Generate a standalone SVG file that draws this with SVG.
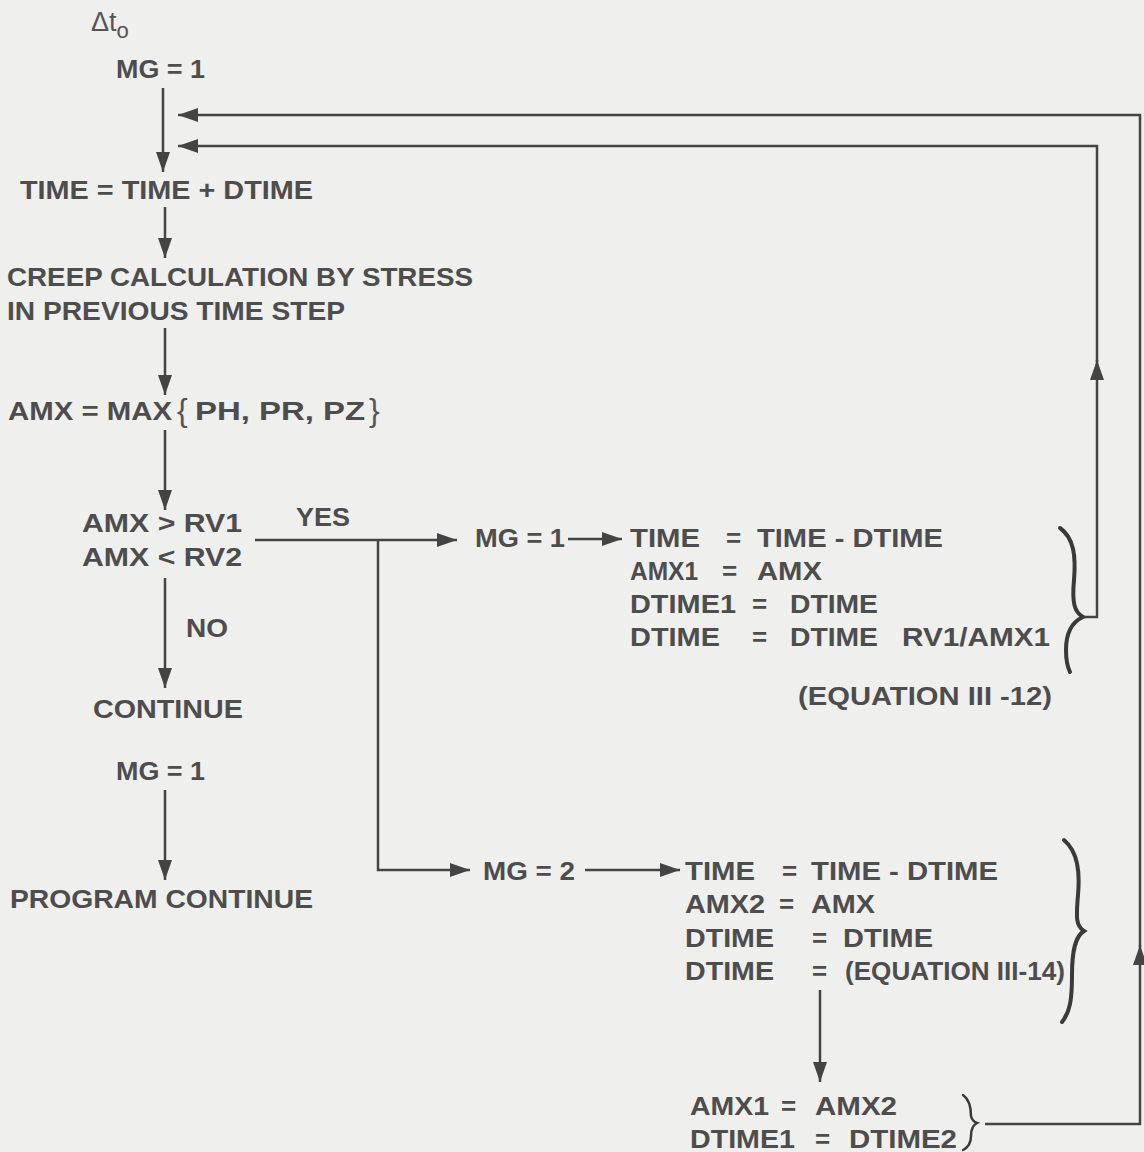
<svg xmlns="http://www.w3.org/2000/svg" width="1144" height="1152" viewBox="0 0 1144 1152">
<style>
.t{font-family:"Liberation Sans",Arial,sans-serif;font-weight:bold;font-size:26px;fill:#4d4d4d}
.th{font-family:"Liberation Sans",Arial,sans-serif;font-weight:normal;font-size:26px;fill:#555}
.c{fill:none;stroke:#444;stroke-width:2.5}
.b{fill:none;stroke:#3a3a3a;stroke-width:4;stroke-linecap:round}
</style>
<defs>
<marker id="ah" viewBox="0 0 20 14" refX="20" refY="7" markerWidth="20" markerHeight="14" markerUnits="userSpaceOnUse" orient="auto">
<path d="M0,0 L20,7 L0,14 Z" fill="#444"/>
</marker>
</defs>
<rect width="1144" height="1152" fill="#efefed"/>

<g id="start">
<text class="th" x="91" y="31" style="font-size:27px">Δt<tspan dy="7" style="font-size:22px">o</tspan></text>
<text class="t" x="116" y="78" textLength="89" lengthAdjust="spacingAndGlyphs">MG = 1</text>
</g>
<g id="time-step"><text class="t" x="20" y="199" textLength="293" lengthAdjust="spacingAndGlyphs">TIME = TIME + DTIME</text></g>
<g id="creep">
<text class="t" x="7" y="286" textLength="466" lengthAdjust="spacingAndGlyphs">CREEP CALCULATION BY STRESS</text>
<text class="t" x="7" y="320" textLength="338" lengthAdjust="spacingAndGlyphs">IN PREVIOUS TIME STEP</text>
</g>
<g id="amx-max">
<text class="t" x="8" y="420" textLength="164" lengthAdjust="spacingAndGlyphs">AMX = MAX</text>
<text class="th" x="177" y="421" style="font-size:32px">{</text>
<text class="t" x="195" y="420" textLength="170" lengthAdjust="spacingAndGlyphs">PH,  PR,  PZ</text>
<text class="th" x="369" y="421" style="font-size:32px">}</text>
</g>
<g id="decision">
<text class="t" x="82" y="532" textLength="160" lengthAdjust="spacingAndGlyphs">AMX &gt; RV1</text>
<text class="t" x="82" y="566" textLength="160" lengthAdjust="spacingAndGlyphs">AMX &lt; RV2</text>
<text class="t" x="296" y="526" textLength="54" lengthAdjust="spacingAndGlyphs">YES</text>
<text class="t" x="186" y="637" textLength="42" lengthAdjust="spacingAndGlyphs">NO</text>
</g>
<g id="continue"><text class="t" x="93" y="718" textLength="150" lengthAdjust="spacingAndGlyphs">CONTINUE</text></g>
<g id="mg1-end"><text class="t" x="116" y="780" textLength="89" lengthAdjust="spacingAndGlyphs">MG = 1</text></g>
<g id="program-continue"><text class="t" x="10" y="908" textLength="303" lengthAdjust="spacingAndGlyphs">PROGRAM CONTINUE</text></g>

<g id="mg1-branch">
<text class="t" x="475" y="547" textLength="90" lengthAdjust="spacingAndGlyphs">MG = 1</text>
<text class="t" x="630" y="547" textLength="70" lengthAdjust="spacingAndGlyphs">TIME</text>
<text class="t" x="726" y="547">=</text>
<text class="t" x="757" y="547" textLength="186" lengthAdjust="spacingAndGlyphs">TIME - DTIME</text>
<text class="t" x="630" y="580" textLength="68" lengthAdjust="spacingAndGlyphs">AMX1</text>
<text class="t" x="722" y="580">=</text>
<text class="t" x="757" y="580" textLength="65" lengthAdjust="spacingAndGlyphs">AMX</text>
<text class="t" x="630" y="613" textLength="106" lengthAdjust="spacingAndGlyphs">DTIME1</text>
<text class="t" x="752" y="613">=</text>
<text class="t" x="790" y="613" textLength="88" lengthAdjust="spacingAndGlyphs">DTIME</text>
<text class="t" x="630" y="646" textLength="90" lengthAdjust="spacingAndGlyphs">DTIME</text>
<text class="t" x="752" y="646">=</text>
<text class="t" x="790" y="646" textLength="88" lengthAdjust="spacingAndGlyphs">DTIME</text>
<text class="t" x="902" y="646" textLength="148" lengthAdjust="spacingAndGlyphs">RV1/AMX1</text>
<path class="b" d="M1060,528 C1074,538 1076,556 1074,580 C1072,602 1074,612 1083,617 C1072,622 1066,632 1066,650 C1066,660 1068,668 1070,672"/>
<text class="t" x="798" y="705" textLength="254" lengthAdjust="spacingAndGlyphs">(EQUATION III -12)</text>
</g>

<g id="mg2-branch">
<text class="t" x="483" y="880" textLength="92" lengthAdjust="spacingAndGlyphs">MG = 2</text>
<text class="t" x="685" y="880" textLength="70" lengthAdjust="spacingAndGlyphs">TIME</text>
<text class="t" x="782" y="880">=</text>
<text class="t" x="811" y="880" textLength="187" lengthAdjust="spacingAndGlyphs">TIME - DTIME</text>
<text class="t" x="685" y="913" textLength="80" lengthAdjust="spacingAndGlyphs">AMX2</text>
<text class="t" x="779" y="913">=</text>
<text class="t" x="811" y="913" textLength="64" lengthAdjust="spacingAndGlyphs">AMX</text>
<text class="t" x="685" y="947" textLength="89" lengthAdjust="spacingAndGlyphs">DTIME</text>
<text class="t" x="812" y="947">=</text>
<text class="t" x="843" y="947" textLength="90" lengthAdjust="spacingAndGlyphs">DTIME</text>
<text class="t" x="685" y="980" textLength="89" lengthAdjust="spacingAndGlyphs">DTIME</text>
<text class="t" x="812" y="980">=</text>
<text class="t" x="845" y="980" textLength="220" lengthAdjust="spacingAndGlyphs">(EQUATION III-14)</text>
<path class="b" d="M1064,840 C1078,852 1080,872 1078,895 C1076,918 1076,926 1084,931 C1076,936 1072,948 1072,975 C1072,1000 1070,1012 1062,1022"/>
</g>

<g id="amx-update">
<text class="t" x="690" y="1115" textLength="79" lengthAdjust="spacingAndGlyphs">AMX1</text>
<text class="t" x="781" y="1115">=</text>
<text class="t" x="815" y="1115" textLength="82" lengthAdjust="spacingAndGlyphs">AMX2</text>
<text class="t" x="690" y="1148" textLength="105" lengthAdjust="spacingAndGlyphs">DTIME1</text>
<text class="t" x="815" y="1148">=</text>
<text class="t" x="849" y="1148" textLength="108" lengthAdjust="spacingAndGlyphs">DTIME2</text>
<path class="b" d="M963,1095 C970,1100 971,1110 971,1116 C972,1120 974,1122 977,1123 C973,1125 971,1130 971,1136 C971,1142 969,1147 963,1150" style="stroke-width:2.5"/>
</g>

<g id="connectors">
<path class="c" d="M163,88 V172" marker-end="url(#ah)"/>
<path class="c" d="M165,207 V258" marker-end="url(#ah)"/>
<path class="c" d="M165,328 V395" marker-end="url(#ah)"/>
<path class="c" d="M165,430 V510" marker-end="url(#ah)"/>
<path class="c" d="M165,578 V688" marker-end="url(#ah)"/>
<path class="c" d="M165,790 V880" marker-end="url(#ah)"/>
<path class="c" d="M255,540 H457" marker-end="url(#ah)"/>
<path class="c" d="M378,540 V870 H470" marker-end="url(#ah)"/>
<path class="c" d="M568,539 H622" marker-end="url(#ah)"/>
<path class="c" d="M585,870 H680" marker-end="url(#ah)"/>
<path class="c" d="M820,990 V1082" marker-end="url(#ah)"/>
<path class="c" d="M1084,617 H1097 V360" marker-end="url(#ah)"/>
<path class="c" d="M1097,362 V146 H178" marker-end="url(#ah)"/>
<path class="c" d="M985,1124 H1140 V945" marker-end="url(#ah)"/>
<path class="c" d="M1140,947 V115 H178" marker-end="url(#ah)"/>
</g>
</svg>
